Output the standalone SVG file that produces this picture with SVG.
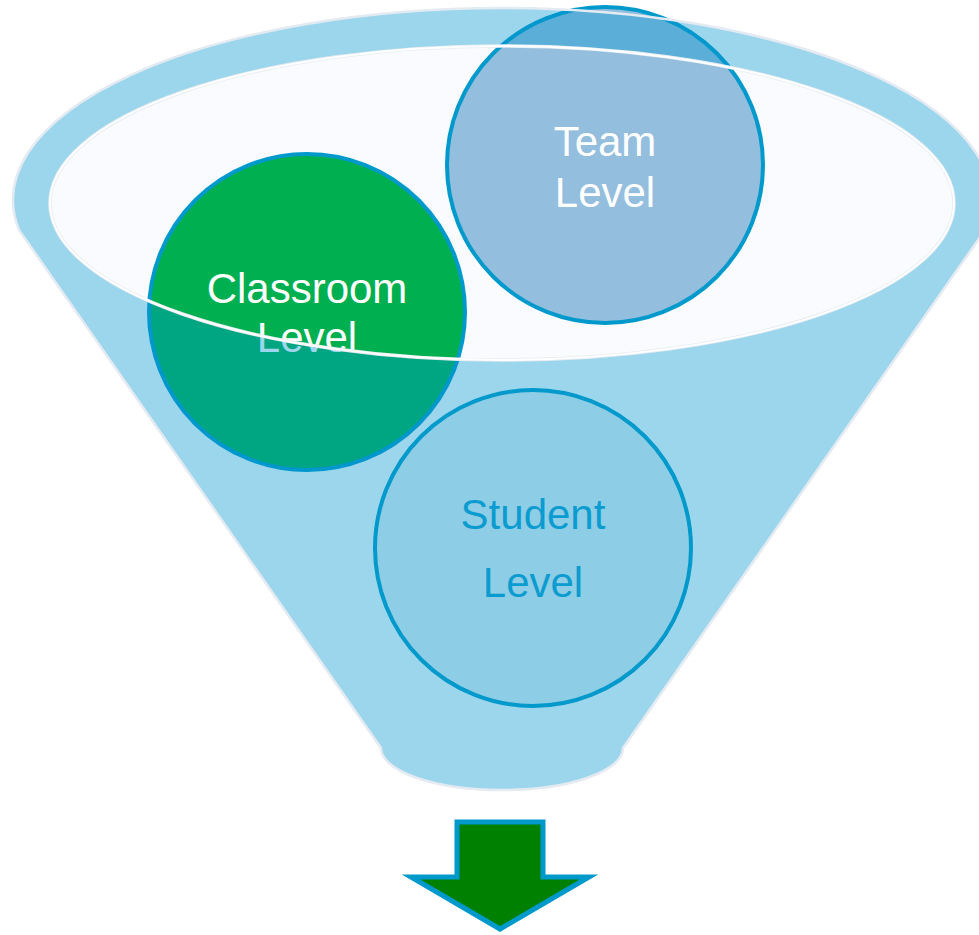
<svg xmlns="http://www.w3.org/2000/svg" width="979" height="935" viewBox="0 0 979 935">
<style>
.lbl{font-family:"Liberation Sans",Arial,sans-serif;font-size:42px;text-anchor:middle}
.node{stroke:#0099CC;stroke-width:4}
.white{fill:#FFFFFF}
</style>
<rect width="979" height="935" fill="#FFFFFF"/>
<g id="funnel-mouth">
<ellipse cx="502" cy="203" rx="452" ry="157" fill="#F9FBFE"/>
</g>
<g id="classroom-level">
<circle class="node" cx="307" cy="312" r="158" fill="#00B050"/>
<text class="lbl white" x="307" y="303">Classroom</text>
<text class="lbl white" x="307" y="352">Level</text>
</g>
<g id="team-level">
<circle class="node" cx="605" cy="165" r="158" fill="#93BEDE"/>
<text class="lbl white" x="605" y="156">Team</text>
<text class="lbl white" x="605" y="207">Level</text>
</g>
<g id="funnel">
<path d="M19,230 A489,192 0 1 1 985,230 L623,748 A121,42 0 0 1 381,748 Z M50,203 A452,157 0 1 0 954,203 A452,157 0 1 0 50,203 Z" fill="#0096CF" fill-opacity="0.39" fill-rule="evenodd"/>
<path d="M19,230 A489,192 0 1 1 985,230 L623,748 A121,42 0 0 1 381,748 Z" fill="none" stroke="#E3EAF1" stroke-width="2.5"/>
<ellipse cx="502" cy="203" rx="452" ry="157" fill="none" stroke="#E6ECF2" stroke-width="3.5"/>
<ellipse cx="502" cy="203" rx="452" ry="157" fill="none" stroke="#FFFFFF" stroke-width="1.8"/>
</g>
<g id="student-level">
<circle class="node" cx="533" cy="548" r="158" fill="#8DCDE5"/>
<text class="lbl" x="533" y="529" fill="#0A9BD0">Student</text>
<text class="lbl" x="533" y="597" fill="#0A9BD0">Level</text>
</g>
<g id="connectors">
<polygon points="457,822 543,822 543,877 589,877 500,929 411,877 457,877" fill="#008000" stroke="#0099CC" stroke-width="5"/>
</g>
</svg>
